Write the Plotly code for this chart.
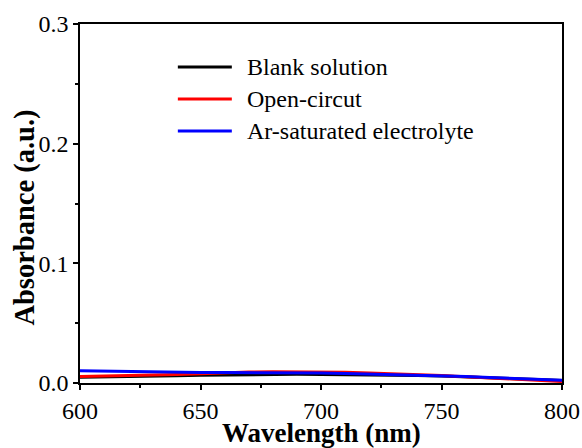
import plotly.graph_objects as go

wavelength = [600, 610, 620, 630, 640, 650, 660, 670, 680, 690, 700, 710, 720, 730, 740, 750, 760, 770, 780, 790, 800]
blank = [0.0048, 0.0050, 0.0053, 0.0057, 0.0061, 0.0065, 0.0068, 0.0071, 0.0073, 0.0073, 0.0072, 0.0071, 0.0069, 0.0066, 0.0062, 0.0058, 0.0052, 0.0045, 0.0037, 0.0029, 0.0020]
open_circuit = [0.0055, 0.0058, 0.0062, 0.0067, 0.0072, 0.0078, 0.0088, 0.0092, 0.0093, 0.0094, 0.0094, 0.0090, 0.0084, 0.0078, 0.0070, 0.0062, 0.0053, 0.0043, 0.0033, 0.0022, 0.0012]
ar_saturated = [0.0102, 0.0098, 0.0094, 0.0091, 0.0089, 0.0088, 0.0087, 0.0087, 0.0086, 0.0085, 0.0083, 0.0080, 0.0076, 0.0072, 0.0067, 0.0061, 0.0054, 0.0046, 0.0038, 0.0031, 0.0024]

series_names = ["Blank solution", "Open-circut", "Ar-saturated electrolyte"]
series_values = [blank, open_circuit, ar_saturated]
series_colors = ["#000000", "#ff0000", "#0000ff"]

FONT = "Liberation Serif"

fig = go.Figure()
for name, vals, color in zip(series_names, series_values, series_colors):
    fig.add_trace(go.Scatter(x=wavelength, y=vals, mode="lines", name=name,
                             line=dict(color=color, width=3), showlegend=False))

# manual legend (lines + text) in paper coordinates
legend_rows_y = [0.880, 0.791, 0.702]
for name, color, yy in zip(series_names, series_colors, legend_rows_y):
    fig.add_shape(type="line", xref="paper", yref="paper", x0=0.203, x1=0.315, y0=yy, y1=yy,
                  line=dict(color=color, width=3))
    fig.add_annotation(xref="paper", yref="paper", x=0.342, y=yy, text=name, showarrow=False,
                       xanchor="left", yanchor="middle",
                       font=dict(family=FONT, size=24, color="black"))

# axis titles as annotations (placed like the reference)
fig.add_annotation(xref="paper", yref="paper", x=0.501, y=-0.14, text="<b>Wavelength (nm)</b>",
                   showarrow=False, xanchor="center", yanchor="middle",
                   font=dict(family=FONT, size=27, color="black"))
fig.add_annotation(xref="paper", yref="paper", x=-0.116, y=0.461, text="<b>Absorbance (a.u.)</b>",
                   showarrow=False, xanchor="center", yanchor="middle", textangle=-90,
                   font=dict(family=FONT, size=28.5, color="black"))

fig.update_layout(
    width=582, height=448,
    margin=dict(l=80, r=20, t=24, b=65),
    plot_bgcolor="white", paper_bgcolor="white",
    font=dict(family=FONT, size=24, color="black"),
    showlegend=False,
    xaxis=dict(
        range=[600, 800], dtick=50, tick0=600, tickmode="linear",
        showline=True, linecolor="black", linewidth=1.5, mirror=True,
        ticks="outside", ticklen=5, tickwidth=1.5, tickcolor="black",
        showgrid=False, zeroline=False, automargin=False,
        tickfont=dict(family=FONT, size=24, color="black"),
        minor=dict(ticks="outside", ticklen=3, dtick=25, tickcolor="black", tickwidth=1.5, showgrid=False),
    ),
    yaxis=dict(
        range=[0, 0.3], dtick=0.1, tick0=0, tickmode="linear", tickformat=".1f",
        showline=True, linecolor="black", linewidth=1.5, mirror=True,
        ticks="outside", ticklen=5, tickwidth=1.5, tickcolor="black",
        showgrid=False, zeroline=False, automargin=False,
        tickfont=dict(family=FONT, size=24, color="black"),
        minor=dict(ticks="outside", ticklen=3, dtick=0.05, tickcolor="black", tickwidth=1.5, showgrid=False),
    ),
)
fig.write_html("out.html")
